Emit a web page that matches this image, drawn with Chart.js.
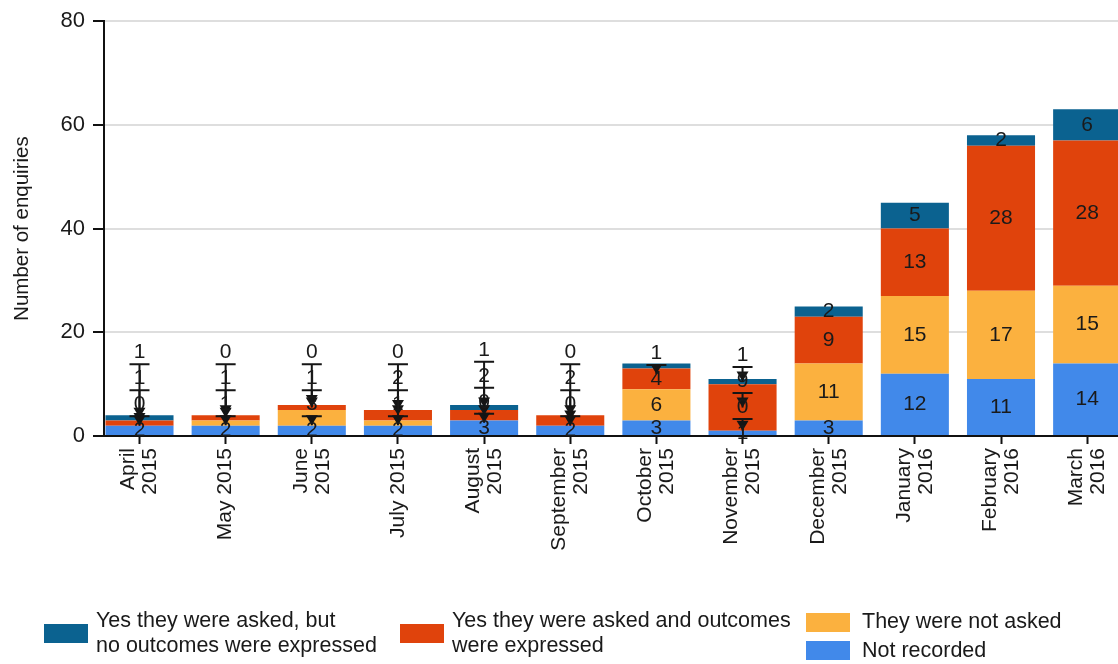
<!DOCTYPE html>
<html>
<head>
<meta charset="utf-8">
<script src="https://cdn.jsdelivr.net/npm/chart.js@4"></script>
<style>
  html, body { margin: 0; padding: 0; background: #ffffff; overflow: hidden; }
  #wrap { position: relative; width: 1118px; height: 664px; }
</style>
</head>
<body>
<div id="wrap"><canvas id="enquiries"></canvas></div>
<script>
// Month labels (one entry per line of the rotated axis label)
const months = [
  ["April", "2015"], ["May 2015"], ["June", "2015"], ["July 2015"],
  ["August", "2015"], ["September", "2015"], ["October", "2015"], ["November", "2015"],
  ["December", "2015"], ["January", "2016"], ["February", "2016"], ["March", "2016"]
];

// Enquiries per month, by whether outcomes were asked about
const notRecorded       = [2, 2, 2, 2, 3, 2, 3, 1, 3, 12, 11, 14];
const notAsked          = [0, 1, 3, 1, 0, 0, 6, 0, 11, 15, 17, 15];
const askedWithOutcomes = [1, 1, 1, 2, 2, 2, 4, 9, 9, 13, 28, 28];
const askedNoOutcomes   = [1, 0, 0, 0, 1, 0, 1, 1, 2, 5, 2, 6];

const yTicks = [0, 20, 40, 60, 80];

// Series names, stacked bottom to top
const seriesNames = [
  "Not recorded",
  "They were not asked",
  "Yes they were asked and outcomes were expressed",
  "Yes they were asked, but no outcomes were expressed"
];
// Legend text as it is broken over lines
const legendLines = [
  ["Not recorded"],
  ["They were not asked"],
  ["Yes they were asked and outcomes", "were expressed"],
  ["Yes they were asked, but", "no outcomes were expressed"]
];
const seriesValues = [notRecorded, notAsked, askedWithOutcomes, askedNoOutcomes];
const seriesColors = ["#4189ea", "#fbb13f", "#e0430c", "#0b6290"];

const FONT = '"Liberation Sans", Arial, Helvetica, sans-serif';
const INK = "#1a1a1a";
Chart.defaults.font.family = FONT;

// Value labels inside each segment; labels that would collide are pushed
// upwards and tied back to their segment with a small leader arrow.
const segmentLabels = {
  id: "segmentLabels",
  afterDatasetsDraw(chart) {
    const ctx = chart.ctx;
    const metas = chart.data.datasets.map((d, i) => chart.getDatasetMeta(i));
    ctx.save();
    ctx.font = "21px " + FONT;
    ctx.textAlign = "center";
    ctx.textBaseline = "middle";
    for (let i = 0; i < months.length; i++) {
      let prev = null;
      const items = [];
      metas.forEach((meta, di) => {
        const el = meta.data[i];
        const target = (el.y + el.base) / 2;
        let y = target, moved = false;
        if (prev !== null && target > prev - 22) { y = prev - 26; moved = true; }
        prev = y;
        items.push({ x: el.x, y, target, moved, text: String(seriesValues[di][i]) });
      });
      ctx.strokeStyle = "#151515";
      ctx.fillStyle = "#151515";
      ctx.lineWidth = 2;
      items.filter(it => it.moved).forEach(it => {
        const capY = it.y + 12;
        const tip = Math.max(it.target, capY + 9);
        ctx.beginPath();
        ctx.moveTo(it.x - 10, capY); ctx.lineTo(it.x + 10, capY);
        ctx.moveTo(it.x, capY); ctx.lineTo(it.x, tip);
        ctx.stroke();
        ctx.beginPath();
        ctx.moveTo(it.x - 6, tip - 10);
        ctx.lineTo(it.x + 6, tip - 10);
        ctx.lineTo(it.x, tip);
        ctx.closePath();
        ctx.fill();
      });
      ctx.fillStyle = INK;
      items.forEach(it => ctx.fillText(it.text, it.x, it.y));
    }
    ctx.restore();
  }
};

// Rotated month labels under the x axis, reading bottom to top
const monthLabels = {
  id: "monthLabels",
  afterDraw(chart) {
    const ctx = chart.ctx;
    const xs = chart.scales.x;
    const top = chart.chartArea.bottom + 12;
    ctx.save();
    ctx.font = "21px " + FONT;
    ctx.fillStyle = INK;
    ctx.textAlign = "right";
    ctx.textBaseline = "middle";
    months.forEach((lines, i) => {
      const x = xs.getPixelForValue(i);
      ctx.save();
      ctx.translate(x, top);
      ctx.rotate(-Math.PI / 2);
      lines.forEach((t, k) => {
        ctx.fillText(t, 0, (k - (lines.length - 1) / 2) * 22);
      });
      ctx.restore();
    });
    ctx.restore();
  }
};

// Legend laid out in three columns along the bottom
const bottomLegend = {
  id: "bottomLegend",
  afterDraw(chart) {
    const ctx = chart.ctx;
    const slots = [
      { series: 3, box: [44, 624], text: [96, 621] },
      { series: 2, box: [400, 624], text: [452, 621] },
      { series: 1, box: [806, 613], text: [862, 622] },
      { series: 0, box: [806, 641], text: [862, 651] }
    ];
    ctx.save();
    ctx.font = "21.5px " + FONT;
    ctx.textAlign = "left";
    ctx.textBaseline = "middle";
    slots.forEach(s => {
      const ds = chart.data.datasets[s.series];
      ctx.fillStyle = ds.backgroundColor;
      ctx.fillRect(s.box[0], s.box[1], 44, 19);
      ctx.fillStyle = INK;
      legendLines[s.series].forEach((l, k) => ctx.fillText(l, s.text[0], s.text[1] + k * 25));
    });
    ctx.restore();
  }
};

new Chart(document.getElementById("enquiries"), {
  type: "bar",
  data: {
    datasets: seriesNames.map((name, k) => ({
      label: name,
      data: seriesValues[k].map((v, i) => ({ x: i, y: v })),
      backgroundColor: seriesColors[k],
      borderWidth: 0,
      barPercentage: 0.79,
      categoryPercentage: 1
    }))
  },
  options: {
    responsive: true,
    maintainAspectRatio: false,
    animation: false,
    layout: { padding: { top: 20, right: 0, bottom: 108, left: 0 } },
    plugins: { legend: { display: false }, tooltip: { enabled: false } },
    scales: {
      x: {
        type: "linear",
        stacked: true,
        offset: false,
        min: -0.412,
        max: 11.358,
        afterBuildTicks: s => { s.ticks = months.map((_, i) => ({ value: i })); },
        afterFit: s => { s.height = 120; },
        grid: { display: true, offset: false, drawOnChartArea: false, drawTicks: true, tickLength: 8, tickColor: "#111", tickWidth: 2 },
        border: { display: true, color: "#111", width: 2 },
        ticks: { display: false }
      },
      y: {
        stacked: true,
        min: 0,
        max: 80,
        afterBuildTicks: s => { s.ticks = yTicks.map(v => ({ value: v })); },
        afterFit: s => { s.width = 104; },
        grid: { color: "#dedede", lineWidth: 2, drawTicks: true, tickLength: 11, tickColor: "#111", tickWidth: 2 },
        border: { color: "#111", width: 2 },
        ticks: { font: { size: 22 }, color: INK, padding: 8 },
        title: {
          display: true,
          text: "Number of enquiries",
          font: { size: 20.5 },
          color: INK,
          padding: { top: 10, bottom: 0 }
        }
      }
    }
  },
  plugins: [segmentLabels, monthLabels, bottomLegend]
});
</script>
</body>
</html>
